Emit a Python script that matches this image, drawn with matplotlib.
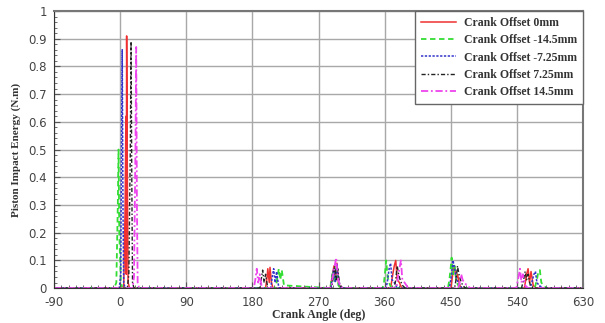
import numpy as np
import matplotlib.pyplot as plt
from matplotlib.ticker import MultipleLocator

plt.rcParams['axes.unicode_minus'] = False

# crank angle (deg) / piston impact energy (N.m) for each crank offset
ang_0 = [-90, 5, 7, 8, 8.5, 9, 10, 11, 13, 198, 200, 201, 203, 204, 206, 208, 286, 289, 291, 293, 295, 297, 300, 368, 371, 373, 375, 377, 380, 383, 450, 453, 455, 457, 459, 462, 465, 550, 553, 555, 557, 559, 562, 565, 630]
val_0 = [0, 0, 0.3, 0.62, 0.05, 0.91, 0.4, 0.02, 0, 0, 0.04, 0.07, 0.02, 0.075, 0.02, 0, 0, 0.05, 0.08, 0.03, 0.09, 0.02, 0, 0, 0.05, 0.08, 0.1, 0.03, 0.02, 0, 0, 0.06, 0.08, 0.03, 0.05, 0.01, 0, 0, 0.05, 0.07, 0.02, 0.06, 0.01, 0, 0]

ang_m145 = [-90, -8, -5, -3, -2, -1, 1, 3, 212, 214, 216, 218, 220, 223, 286, 288, 290, 292, 294, 297, 300, 357, 359, 361, 362, 364, 366, 369, 446, 448, 450, 451, 453, 455, 458, 462, 564, 567, 569, 571, 573, 576, 580, 630]
val_m145 = [0, 0, 0.02, 0.3, 0.5, 0.2, 0.03, 0, 0, 0.04, 0.07, 0.03, 0.065, 0.01, 0, 0.04, 0.06, 0.02, 0.07, 0.01, 0, 0, 0.02, 0.07, 0.1, 0.04, 0.02, 0, 0, 0.03, 0.08, 0.11, 0.05, 0.08, 0.02, 0, 0, 0.03, 0.06, 0.065, 0.02, 0.01, 0, 0]

ang_m725 = [-90, -1, 1, 2, 3, 4, 5, 7, 205, 207, 209, 211, 213, 216, 287, 289, 291, 293, 295, 298, 302, 362, 364, 366, 368, 370, 373, 377, 448, 451, 453, 455, 457, 460, 465, 558, 561, 563, 565, 567, 570, 575, 630]
val_m725 = [0, 0, 0.05, 0.5, 0.86, 0.3, 0.02, 0, 0, 0.04, 0.07, 0.02, 0.06, 0, 0, 0.05, 0.07, 0.02, 0.09, 0.01, 0, 0, 0.03, 0.07, 0.09, 0.03, 0.02, 0, 0, 0.05, 0.1, 0.07, 0.04, 0.02, 0, 0, 0.03, 0.05, 0.06, 0.02, 0.01, 0, 0]

ang_725 = [-90, 10, 12, 14, 15, 16, 17, 19, 190, 192, 194, 196, 198, 201, 288, 290, 292, 294, 296, 299, 303, 373, 375, 377, 379, 381, 384, 388, 455, 457, 459, 461, 463, 466, 470, 546, 549, 551, 553, 555, 558, 562, 630]
val_725 = [0, 0, 0.05, 0.5, 0.89, 0.4, 0.02, 0, 0, 0.03, 0.065, 0.02, 0.05, 0, 0, 0.04, 0.08, 0.03, 0.07, 0.01, 0, 0, 0.03, 0.08, 0.05, 0.03, 0.01, 0, 0, 0.03, 0.08, 0.05, 0.03, 0.01, 0, 0, 0.03, 0.06, 0.03, 0.05, 0.01, 0, 0]

ang_145 = [-90, 17, 19, 21, 22, 23, 24, 26, 182, 184, 186, 188, 190, 193, 287, 290, 292, 294, 296, 299, 303, 376, 378, 380, 382, 384, 387, 392, 460, 462, 464, 466, 468, 472, 476, 539, 542, 544, 546, 548, 551, 555, 630]
val_145 = [0, 0, 0.04, 0.5, 0.87, 0.3, 0.02, 0, 0, 0.03, 0.07, 0.02, 0.05, 0, 0, 0.05, 0.08, 0.11, 0.04, 0.01, 0, 0, 0.04, 0.07, 0.1, 0.03, 0.02, 0, 0, 0.02, 0.05, 0.03, 0.02, 0.01, 0, 0, 0.04, 0.07, 0.02, 0.05, 0.01, 0, 0]

labels = ['Crank Offset 0mm', 'Crank Offset -14.5mm', 'Crank Offset -7.25mm',
          'Crank Offset 7.25mm', 'Crank Offset 14.5mm']

fig = plt.figure(figsize=(6.05, 3.23), dpi=100)
ax = fig.add_axes([0.089, 0.108, 0.875, 0.858])

ax.plot(ang_0, val_0, color='#f03030', lw=1.1, ls='-', label=labels[0])
ax.plot(ang_m145, val_m145, color='#33dd33', lw=1.3, ls=(0, (3, 2)), label=labels[1])
ax.plot(ang_m725, val_m725, color='#3333cc', lw=1.1, ls=(0, (1.5, 1)), label=labels[2])
ax.plot(ang_725, val_725, color='#222222', lw=1.0, ls=(0, (3, 1.5, 1, 1.5)), label=labels[3])
ax.plot(ang_145, val_145, color='#ee44ee', lw=1.3, ls=(0, (4, 1.5, 1, 1.5)), label=labels[4])

ax.set_xlim(-90, 630)
ax.set_ylim(0, 1)
ax.xaxis.set_major_locator(MultipleLocator(90))
ax.xaxis.set_minor_locator(MultipleLocator(10))
ax.yaxis.set_minor_locator(MultipleLocator(0.02))
ax.set_yticks(np.arange(0, 1.01, 0.1))
ax.set_yticklabels(['0', '0.1', '0.2', '0.3', '0.4', '0.5', '0.6', '0.7', '0.8', '0.9', '1'])
ax.grid(True, which='major', color='#a8a8a8', lw=1.0)
ax.set_axisbelow(True)
ax.tick_params(which='both', direction='in', labelsize=8.5, labelcolor='#444444',
               color='#555555')
ax.tick_params(axis='x', pad=6)
ax.tick_params(axis='y', pad=5)
ax.tick_params(which='major', length=4)
ax.tick_params(which='minor', length=2)

for s in ['left', 'bottom']:
    ax.spines[s].set_color('#333333')
for s in ['top', 'right']:
    ax.spines[s].set_color('#777777')
    ax.spines[s].set_linewidth(1.5)

serif = {'family': 'Liberation Serif', 'weight': 'bold'}
ax.set_xlabel('Crank Angle (deg)', fontdict=serif, fontsize=8.5, color='#333333', labelpad=0)
ax.set_ylabel('Piston Impact Energy (N.m)', fontdict=serif, fontsize=8, color='#333333', labelpad=5)

leg = ax.legend(loc='upper right', bbox_to_anchor=(1.0, 1.0), borderaxespad=0,
                fancybox=False, framealpha=1, edgecolor='#666666', handlelength=3.0,
                prop={'family': 'Liberation Serif', 'weight': 'bold', 'size': 8.5},
                labelspacing=0.45, borderpad=0.5, handletextpad=0.7)
for t in leg.get_texts():
    t.set_color('#333333')

fig.savefig('out.png', dpi=100)
